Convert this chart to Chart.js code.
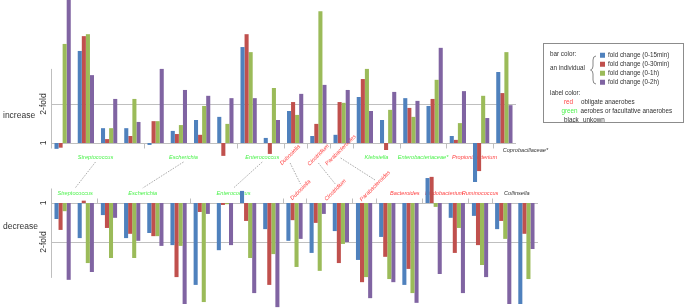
<!DOCTYPE html>
<html>
<head>
<meta charset="utf-8">
<script src="https://cdn.jsdelivr.net/npm/chart.js@4.4.0/dist/chart.umd.min.js"></script>
<style>
  html, body { margin: 0; padding: 0; background: #fff; }
  #wrap { position: relative; width: 685px; height: 308px; overflow: hidden; font-family: "Liberation Sans", Arial, sans-serif; }
  #wrap canvas { position: absolute; left: 0; top: 0; }
  .legend { position: absolute; left: 543px; top: 43px; width: 141px; height: 80px; border: 1px solid #8c8c8c; box-sizing: border-box; font-size: 6.3px; color: #333; }
  .legend span { position: absolute; white-space: nowrap; line-height: 1; transform: translateY(-50%); }
  .legend i { position: absolute; width: 4.5px; height: 4.5px; transform: translateY(-50%); }
  .legend svg { position: absolute; left: 46px; top: 11px; }
</style>
</head>
<body>
<div id="wrap">
  <canvas id="up" width="685" height="308"></canvas>
  <canvas id="down" width="685" height="308"></canvas>
  <div class="legend" id="legend"></div>
</div>
<script>
const seriesNames = ["fold change (0-15min)", "fold change (0-30min)", "fold change (0-1h)", "fold change (0-2h)"];
const seriesColors = ["#4F81BD", "#C0504D", "#9BBB59", "#8064A2"];
const tickValues = [0, 1];
const tickLabels = ["1", "2-fold"];

// label colour groups
const anaerobes = ["Dubosiella", "Clostridium", "Parabacteroides", "Propionibacterium", "Bacteroides", "Bifidobacterium", "Ruminococcus"];
const aerobes = ["Streptococcus", "Escherichia", "Enterococcus", "Klebsiella", "Enterobacteriaceae*"];

// increase panel: one group per individual, log2 fold change
const upGenus = [
  "Streptococcus", "Streptococcus", "Streptococcus", "Streptococcus",
  "Escherichia", "Escherichia", "Escherichia", "Escherichia",
  "Enterococcus", "Enterococcus", "Dubosiella", "Clostridium", "Parabacteroides",
  "Klebsiella", "Klebsiella", "Enterobacteriaceae*", "Enterobacteriaceae*",
  "Propionibacterium", "Propionibacterium", "Coprobacillaceae*"
];
const up15 = [-0.15, 2.36, 0.38, 0.38, -0.05, 0.31, 0.59, 0.67, 2.46, 0.13, 0.82, 0.18, 0.21, 1.18, 0.59, 1.15, 0.95, 0.18, -1.0, 1.82];
const up30 = [-0.12, 2.74, 0.10, 0.18, 0.56, 0.23, 0.21, -0.33, 2.79, -0.28, 1.05, 0.49, 1.05, 1.64, -0.18, 0.90, 1.13, 0.08, -0.72, 1.28];
const up1h = [2.54, 2.79, 0.38, 1.13, 0.56, 0.46, 0.95, 0.49, 2.33, 1.41, 0.72, 3.38, 1.03, 1.90, 0.85, 0.67, 1.62, 0.51, 1.21, 2.33];
const up2h = [3.7, 1.74, 1.13, 0.54, 1.90, 1.36, 1.21, 1.15, 1.15, 0.59, 1.26, 1.49, 1.36, 0.82, 1.31, 1.08, 2.44, 1.33, 0.64, 0.97];

// decrease panel
const downGenus = [
  "Streptococcus", "Streptococcus",
  "Escherichia", "Escherichia", "Escherichia", "Escherichia",
  "Enterococcus", "Enterococcus", "Enterococcus", "Enterococcus",
  "Dubosiella", "Clostridium", "Clostridium", "Parabacteroides",
  "Bacteroides", "Bacteroides", "Bifidobacterium", "Bifidobacterium",
  "Ruminococcus", "Collinsella", "Collinsella"
];
const down15 = [-0.41, -0.90, -0.31, -0.90, -0.77, -1.08, -2.10, -1.21, 0.31, -0.67, -0.97, -1.28, -0.72, -1.46, -0.87, -2.10, 0.64, -0.38, -0.33, -0.67, -2.59];
const down30 = [-0.69, 0.06, -0.64, -0.79, -0.85, -1.90, -0.23, -0.05, -0.46, -2.10, -0.44, -0.51, -1.54, -2.03, -1.38, -1.69, 0.67, -1.28, -1.08, -0.46, -0.79];
const down1h = [-0.21, -1.54, -1.41, -1.41, -0.85, -1.10, -2.54, -0.03, -1.41, -1.31, -1.64, -1.74, -1.05, -1.90, -1.95, -2.31, -0.10, -0.64, -1.59, -0.92, -1.95];
const down2h = [-1.97, -1.77, -0.38, -0.97, -1.10, -2.59, -0.28, -1.08, -2.31, -2.67, -0.92, -0.28, -1.00, -2.44, -2.03, -2.56, -1.82, -2.31, -1.90, -2.59, -1.18];

// label nudges (px) and rotation
const upPlace = {
  "Streptococcus": { dx: -2 }, "Escherichia": { dx: -7 }, "Enterococcus": { dx: 2 },
  "Dubosiella": { dx: -5, dy: -2, rot: true }, "Clostridium": { dx: 0, dy: -2, rot: true },
  "Parabacteroides": { dx: -1, dy: -7, rot: true }, "Propionibacterium": { dx: 5 },
  "Coprobacillaceae*": { dx: 21, dy: -7 }
};
const downPlace = {
  "Streptococcus": { dx: 1 }, "Escherichia": { dx: -1 }, "Enterococcus": { dx: -3 },
  "Dubosiella": { dx: 6, dy: -3, rot: true }, "Clostridium": { dx: 6, dy: -3, rot: true },
  "Parabacteroides": { dx: 11, dy: -7, rot: true }, "Bacteroides": { dx: 6 },
  "Bifidobacterium": { dx: -1 }, "Collinsella": { dx: 2 }
};

const axisColor = "#BFBFBF";
const textColor = "#333333";
const PX_PER_UNIT = 39;

function genusRuns(genus) {
  const runs = [];
  genus.forEach((g, i) => {
    const last = runs[runs.length - 1];
    if (last && last.name === g) last.end = i;
    else runs.push({ name: g, start: i, end: i });
  });
  return runs;
}

function labelColor(name) {
  if (anaerobes.includes(name)) return "#FF3F3F";
  if (aerobes.includes(name)) return "#4CF24C";
  return textColor;
}

function labelSpots(chart, genus, place, side) {
  const x = chart.scales.x;
  const y0 = chart.scales.y.getPixelForValue(0);
  return genusRuns(genus).map((r) => {
    const p = place[r.name] || {};
    return {
      name: r.name,
      x: (x.getPixelForValue(r.start) + x.getPixelForValue(r.end)) / 2 + (p.dx || 0),
      y: y0 + (side === "up" ? 14 : -10) + (p.dy || 0),
      rot: !!p.rot,
    };
  });
}

let upChart = null;

const panelPlugin = {
  id: "panel",
  beforeDatasetsDraw(chart, args, opts) {
    const { ctx, chartArea } = chart;
    const x = chart.scales.x, y = chart.scales.y;
    const up = opts.side === "up";
    const dir = up ? 1 : -1;
    const y0 = Math.round(y.getPixelForValue(0)) + 0.5;
    const left = Math.round(chartArea.left) + 0.5;
    ctx.save();
    ctx.strokeStyle = axisColor;
    ctx.lineWidth = 1;
    ctx.beginPath();
    // 2-fold gridline
    const g = Math.round(y.getPixelForValue(dir * tickValues[1])) + 0.5;
    ctx.moveTo(left, g); ctx.lineTo(chartArea.right, g);
    // baseline
    ctx.moveTo(left, y0); ctx.lineTo(chartArea.right, y0);
    // y axis
    if (up) { ctx.moveTo(left, y.getPixelForValue(1.9)); ctx.lineTo(left, y0 + 5); }
    else { ctx.moveTo(left, y0 - 15); ctx.lineTo(left, y.getPixelForValue(-1.92)); }
    // genus separators
    const runs = genusRuns(opts.genus);
    runs.slice(1).forEach((r) => {
      const px = Math.round((x.getPixelForValue(r.start - 1) + x.getPixelForValue(r.start)) / 2) + 0.5;
      ctx.moveTo(px, y0); ctx.lineTo(px, y0 + dir * 5);
    });
    ctx.stroke();

    // y ticks and side title
    ctx.fillStyle = textColor;
    ctx.font = "8.5px 'Liberation Sans', Arial, sans-serif";
    ctx.textAlign = "center";
    ctx.textBaseline = "middle";
    tickValues.forEach((v, i) => {
      ctx.save();
      ctx.translate(44, y.getPixelForValue(dir * v));
      ctx.rotate(-Math.PI / 2);
      ctx.fillText(tickLabels[i], 0, 0);
      ctx.restore();
    });
    ctx.textAlign = "left";
    ctx.fillText(opts.title, 3, y0 + opts.titleDy);

    // genus labels
    ctx.font = "italic 5.6px 'Liberation Sans', Arial, sans-serif";
    ctx.textAlign = "center";
    labelSpots(chart, opts.genus, opts.place, opts.side).forEach((s) => {
      ctx.fillStyle = labelColor(s.name);
      ctx.save();
      ctx.translate(s.x, s.y);
      if (s.rot) ctx.rotate(-Math.PI / 4);
      ctx.fillText(s.name, 0, 0);
      ctx.restore();
    });

    // dashed connectors between the two panels
    if (!up && upChart) {
      const tops = labelSpots(upChart, upGenus, upPlace, "up");
      const bots = labelSpots(chart, opts.genus, opts.place, "down");
      ctx.strokeStyle = "#8a8a8a";
      ctx.lineWidth = 0.7;
      ctx.setLineDash([1.6, 1.2]);
      ctx.beginPath();
      tops.forEach((t) => {
        const b = bots.find((s) => s.name === t.name);
        if (!b) return;
        ctx.moveTo(t.x, t.y + (t.rot ? 8 : 5));
        ctx.lineTo(b.x, b.y - (b.rot ? 6 : 5));
      });
      ctx.stroke();
    }
    ctx.restore();
  },
};

function makePanel(id, genus, series, baseY, right, panelOpts) {
  const height = 308;
  const yMax = baseY / PX_PER_UNIT;
  const yMin = yMax - height / PX_PER_UNIT;
  return new Chart(document.getElementById(id), {
    type: "bar",
    data: {
      labels: genus,
      datasets: series.map((d, i) => ({
        label: seriesNames[i],
        data: d,
        backgroundColor: seriesColors[i],
        borderWidth: 0,
        barPercentage: 1,
        categoryPercentage: 0.7,
      })),
    },
    options: {
      responsive: false,
      animation: false,
      devicePixelRatio: 1,
      layout: { padding: { left: 51, right: 685 - right, top: 0, bottom: 0 } },
      scales: {
        x: { display: false },
        y: { display: false, min: yMin, max: yMax },
      },
      plugins: {
        legend: { display: false },
        tooltip: { enabled: false },
        panel: panelOpts,
      },
    },
    plugins: [panelPlugin],
  });
}

upChart = makePanel("up", upGenus, [up15, up30, up1h, up2h], 143, 516,
  { side: "up", genus: upGenus, place: upPlace, title: "increase", titleDy: -28 });
makePanel("down", downGenus, [down15, down30, down1h, down2h], 203, 538,
  { side: "down", genus: downGenus, place: downPlace, title: "decrease", titleDy: 23 });

// legend box
const legend = document.getElementById("legend");
const add = (text, left, top, color) => {
  const s = document.createElement("span");
  s.textContent = text;
  s.style.left = left + "px";
  s.style.top = top + "px";
  if (color) s.style.color = color;
  legend.appendChild(s);
};
add("bar color:", 6, 10);
add("an individual", 6, 24);
legend.insertAdjacentHTML("beforeend",
  '<svg width="8" height="30" viewBox="0 0 8 30"><path d="M6 1 Q3 1 3 5 L3 11 Q3 14.5 0.5 15 Q3 15.5 3 19 L3 25 Q3 29 6 29" fill="none" stroke="#555" stroke-width="0.7"/></svg>');
seriesNames.forEach((name, i) => {
  const top = 11 + i * 9;
  const sw = document.createElement("i");
  sw.style.left = "56px";
  sw.style.top = top + "px";
  sw.style.background = seriesColors[i];
  legend.appendChild(sw);
  add(name, 64, top);
});
add("label color:", 6, 49);
add("red", 20, 58, "#FF3F3F");
add("obligate anaerobes", 37, 58);
add("green", 17.5, 67, "#4CF24C");
add("aerobes or facultative anaerobes", 36.5, 67);
add("black", 20, 76);
add("unkown", 39, 76);
</script>
</body>
</html>
